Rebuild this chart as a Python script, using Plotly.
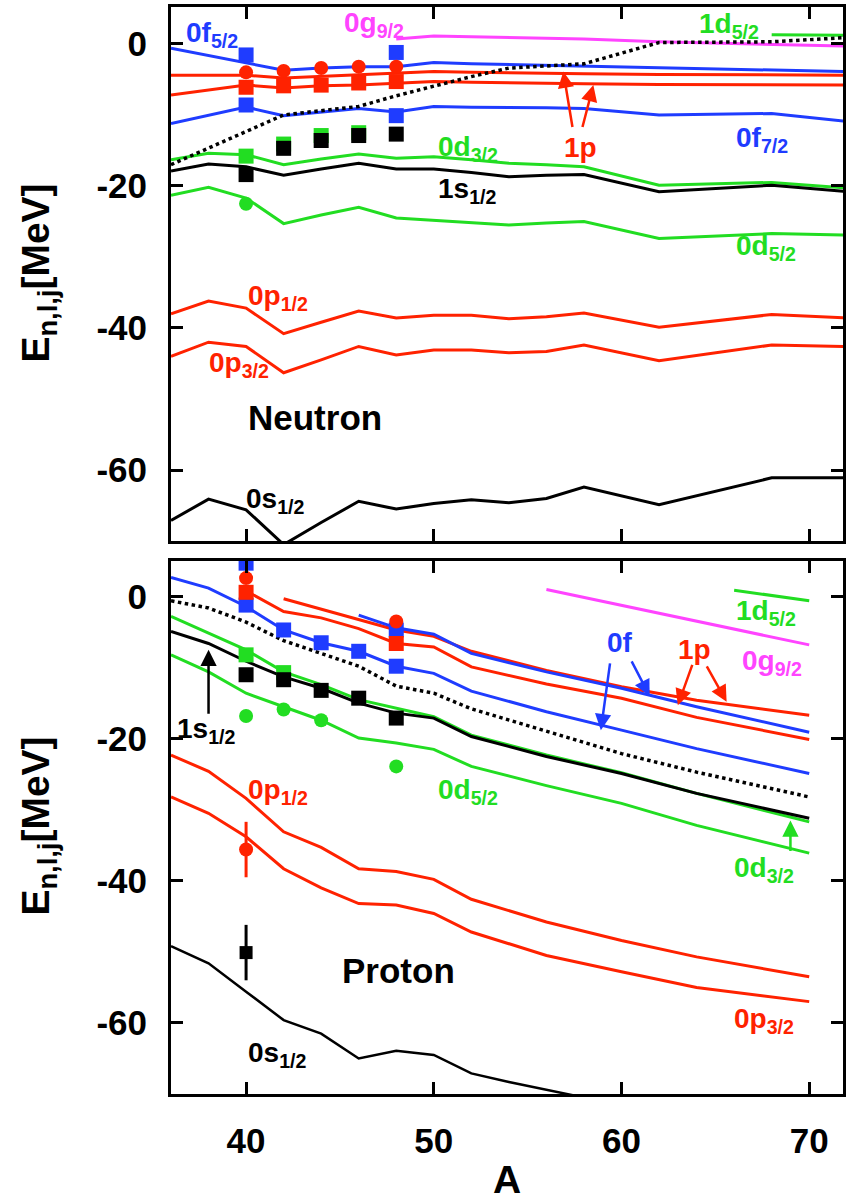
import plotly.graph_objects as go

# ---------------- data ----------------
# Neutron panel (A grid for calculated lines)
A_n = [36, 38, 40, 42, 44, 46, 48, 50, 52, 54, 56, 58, 62, 68, 72]
n_0s12 = [-67.1, -64.1, -65.6, -70.5, -67.4, -64.4, -65.5, -64.7, -64.2, -64.6, -64.0, -62.4, -64.9, -61.1, -61.1]
n_0p32 = [-44.0, -42.0, -42.6, -46.3, -44.5, -42.6, -43.8, -43.1, -43.1, -43.5, -43.3, -42.4, -44.6, -42.4, -42.6]
n_0p12 = [-38.0, -36.2, -37.2, -40.8, -39.2, -37.6, -38.6, -38.2, -38.2, -38.7, -38.4, -37.9, -39.9, -38.1, -38.6]
n_0d52 = [-21.3, -20.2, -21.7, -25.3, -24.1, -23.0, -24.5, -24.8, -25.1, -25.5, -25.2, -25.0, -27.4, -26.7, -26.9]
n_1s12 = [-17.9, -16.9, -17.3, -18.5, -17.6, -16.8, -17.6, -17.6, -18.1, -18.7, -18.5, -18.4, -20.8, -19.9, -20.8]
n_0d32 = [-16.3, -15.4, -15.6, -17.0, -16.2, -15.5, -16.1, -15.9, -16.3, -16.8, -17.0, -17.3, -19.9, -19.5, -20.3]
n_0f72 = [-11.2, -10.0, -8.9, -10.1, -9.6, -9.1, -9.6, -8.8, -8.9, -8.9, -9.0, -9.1, -10.0, -9.8, -10.9]
n_1p32 = [-7.2, -6.5, -5.8, -6.2, -5.9, -5.8, -5.5, -5.3, -5.4, -5.5, -5.5, -5.6, -5.7, -5.7, -5.8]
n_1p12 = [-4.4, -4.4, -4.4, -4.8, -4.6, -4.4, -4.1, -3.9, -4.0, -4.1, -4.1, -4.2, -4.3, -4.3, -4.4]
n_0f52 = [-0.6, -1.6, -2.7, -3.7, -3.4, -3.2, -3.2, -2.6, -2.8, -2.9, -3.0, -3.1, -3.4, -3.6, -3.9]
n_0g92 = [None, None, None, None, None, None, 0.7, 1.1, 1.0, 0.9, 0.8, 0.7, 0.3, 0.0, -0.3]
n_1d52 = [None, None, None, None, None, None, None, None, None, None, None, None, None, 1.3, 1.2]
n_fermi = [-17.0, -14.7, -12.4, -10.0, -9.4, -8.8, -7.3, -5.9, -4.6, -3.4, -3.1, -2.8, 0.2, 0.3, 0.9]

# Neutron experimental points
A_exp = [40, 42, 44, 46, 48]
n_exp_black_sq = [-18.4, -14.7, -13.6, -12.9, -12.7]
n_exp_green_sq = [-15.8, -14.1, -12.9, -12.5, None]
n_exp_red_circ = [-4.0, -3.8, -3.4, -3.2, -3.2]
n_exp_red_sq = [-6.1, -5.9, -5.8, -5.5, -5.3]
n_exp_blue_f52 = [-1.55, None, None, None, -1.2]
n_exp_blue_f72 = [-8.6, None, None, None, -10.1]
n_exp_green_circ = [-22.5, None, None, None, None]

# Proton panel
A_p = [36, 38, 40, 42, 44, 46, 48, 50, 52, 56, 60, 64, 70]
p_0p32 = [-28.2, -30.5, -33.8, -38.3, -41.0, -43.2, -43.4, -44.6, -47.2, -50.5, -52.8, -55.0, -57.0]
p_0p12 = [-22.3, -24.6, -28.4, -33.1, -35.3, -38.3, -38.7, -39.8, -42.6, -45.8, -48.4, -50.7, -53.5]
p_0d52 = [-8.2, -10.6, -13.6, -15.5, -17.4, -19.9, -20.6, -21.5, -23.9, -26.6, -29.1, -32.2, -36.1]
p_1s12 = [-4.9, -6.6, -9.1, -11.3, -12.9, -15.0, -16.4, -17.1, -19.7, -22.5, -24.9, -27.7, -31.2]
p_0d32 = [-2.8, -5.2, -7.5, -10.6, -12.4, -14.5, -15.7, -16.9, -19.5, -22.3, -24.8, -27.7, -31.7]
p_fermi = [-0.6, -1.6, -3.6, -6.2, -8.0, -9.8, -12.6, -13.6, -15.8, -19.0, -22.1, -24.7, -28.2]
p_0f72 = [2.7, 1.2, -1.4, -4.7, -6.5, -7.7, -9.8, -10.8, -13.3, -16.2, -18.8, -21.4, -24.9]
p_1p32 = [None, None, 0.8, -2.1, -3.0, -4.5, -6.6, -7.1, -9.9, -12.3, -14.3, -17.0, -20.1]
p_1p12 = [None, None, None, -0.3, -1.8, -3.3, -4.7, -5.6, -7.7, -10.4, -12.7, -14.6, -16.7]
p_0f52 = [None, None, None, None, None, -2.6, -4.4, -5.3, -8.0, -10.6, -12.9, -15.5, -19.1]
A_p_0s = [36, 38, 40, 42, 44, 46, 48, 50, 52, 54, 58]
p_0s12 = [-49.2, -51.6, -55.6, -59.6, -61.5, -65.0, -63.9, -64.5, -67.1, -68.3, -70.5]
A_p_0g = [56, 70]
p_0g92 = [1.0, -6.8]
A_p_1d = [66, 70]
p_1d52 = [0.9, -0.6]

# Proton experimental points
p_exp_blue_f72 = [-1.2, -4.7, -6.5, -7.7, -9.8]
p_exp_blue_f52 = [4.7, None, None, None, -4.7]
p_exp_red_circ = [2.6, None, None, None, -3.5]
p_exp_red_sq = [0.6, None, None, None, -6.6]
p_exp_green_sq = [-8.2, -10.7, None, None, None]
p_exp_black_sq = [-11.0, -11.7, -13.2, -14.3, -17.1]
p_exp_green_circ = [-16.8, -15.9, -17.4, None, -23.9]
A_deep = [40]
p_exp_0p = [-35.6]
p_exp_0p_err = [3.9]
p_exp_0s = [-50.1]
p_exp_0s_err = [3.9]

# ---------------- style ----------------
FONT = "Liberation Sans"
RED = "#ff2200"
GREEN = "#22dd22"
BLUE = "#1f3cff"
MAG = "#ff44ff"
BLACK = "#000000"

fig = go.Figure()


def add_line(x, y, color, xa, ya, dash="solid", width=3):
    fig.add_trace(go.Scatter(x=x, y=y, mode="lines", xaxis=xa, yaxis=ya,
                             line=dict(color=color, width=width, dash=dash),
                             showlegend=False, hoverinfo="skip"))


def add_pts(x, y, color, symbol, xa, ya, size=15, err=None):
    tr = dict(x=x, y=y, mode="markers", xaxis=xa, yaxis=ya,
              marker=dict(color=color, symbol=symbol, size=size, line=dict(width=0)),
              showlegend=False, hoverinfo="skip")
    if err is not None:
        tr["error_y"] = dict(type="data", array=err, color=color, thickness=3, width=0)
    fig.add_trace(go.Scatter(**tr))


# Neutron lines
for vals, col in [(n_0s12, BLACK), (n_0p32, RED), (n_0p12, RED), (n_0d52, GREEN),
                  (n_0d32, GREEN), (n_1s12, BLACK), (n_0f72, BLUE), (n_1p32, RED),
                  (n_1p12, RED), (n_0f52, BLUE), (n_0g92, MAG), (n_1d52, GREEN)]:
    add_line(A_n, vals, col, "x", "y")
add_line(A_n, n_fermi, BLACK, "x", "y", dash="dot", width=3.5)

# Neutron data
add_pts(A_exp, n_exp_green_circ, GREEN, "circle", "x", "y", size=14)
add_pts(A_exp, n_exp_green_sq, GREEN, "square", "x", "y")
add_pts(A_exp, n_exp_black_sq, BLACK, "square", "x", "y")
add_pts(A_exp, n_exp_blue_f72, BLUE, "square", "x", "y")
add_pts(A_exp, n_exp_blue_f52, BLUE, "square", "x", "y")
add_pts(A_exp, n_exp_red_sq, RED, "square", "x", "y")
add_pts(A_exp, n_exp_red_circ, RED, "circle", "x", "y", size=14)

# Proton lines
add_line(A_p_0s, p_0s12, BLACK, "x2", "y2", width=2.5)
for vals, col in [(p_0p32, RED), (p_0p12, RED), (p_0d52, GREEN), (p_0d32, GREEN),
                  (p_1s12, BLACK), (p_0f72, BLUE), (p_1p32, RED), (p_1p12, RED),
                  (p_0f52, BLUE)]:
    add_line(A_p, vals, col, "x2", "y2")
add_line(A_p_0g, p_0g92, MAG, "x2", "y2")
add_line(A_p_1d, p_1d52, GREEN, "x2", "y2")
add_line(A_p, p_fermi, BLACK, "x2", "y2", dash="dot", width=3.5)

# Proton data
add_pts(A_exp, p_exp_green_circ, GREEN, "circle", "x2", "y2", size=14)
add_pts(A_exp, p_exp_green_sq, GREEN, "square", "x2", "y2")
add_pts(A_exp, p_exp_black_sq, BLACK, "square", "x2", "y2")
add_pts(A_exp, p_exp_blue_f72, BLUE, "square", "x2", "y2")
add_pts(A_exp, p_exp_blue_f52, BLUE, "square", "x2", "y2")
add_pts(A_exp, p_exp_red_sq, RED, "square", "x2", "y2")
add_pts(A_exp, p_exp_red_circ, RED, "circle", "x2", "y2", size=14)
add_pts(A_deep, p_exp_0p, RED, "circle", "x2", "y2", size=14, err=p_exp_0p_err)
add_pts(A_deep, p_exp_0s, BLACK, "square", "x2", "y2", size=13, err=p_exp_0s_err)

# ---------------- axes ----------------
ax_common = dict(showline=True, linecolor="black", linewidth=3, mirror="ticks",
                 ticks="inside", ticklen=12, tickwidth=2.5, tickcolor="black",
                 showgrid=False, zeroline=False)
tickfont = dict(family=FONT, size=35, color="black", weight="bold")
yt = dict(tickvals=[0, -20, -40, -60], ticktext=["0", "-20", "-40", "-60"])

fig.update_layout(
    width=846, height=1204,
    margin=dict(l=171, r=0, t=7, b=110),
    plot_bgcolor="white", paper_bgcolor="white",
    showlegend=False,
    font=dict(family=FONT, color="black"),
    xaxis=dict(range=[36, 71.8], tickvals=[40, 50, 60, 70], showticklabels=False,
               anchor="y", domain=[0, 1], **ax_common),
    yaxis=dict(range=[-70, 5.2], domain=[0.5087, 1], anchor="x", tickfont=tickfont,
               ticklabelstandoff=14, **yt, **ax_common),
    xaxis2=dict(range=[36, 71.8], tickvals=[40, 50, 60, 70], anchor="y2", domain=[0, 1],
                tickfont=tickfont, ticklabelstandoff=14, **ax_common),
    yaxis2=dict(range=[-70, 5.0], domain=[0, 0.4903], anchor="x2", tickfont=tickfont,
                ticklabelstandoff=14, **yt, **ax_common),
)

# ---------------- annotations ----------------
ann = []
LAB = 28


def label(text, x, y, color, xr, yr, xanchor="left", size=LAB):
    ann.append(dict(text=text, x=x, y=y, xref=xr, yref=yr, xanchor=xanchor, yanchor="middle",
                    showarrow=False, font=dict(family=FONT, size=size, color=color, weight="bold")))


def arrow(x0, y0, x1, y1, color, xr, yr):
    ann.append(dict(text="", x=x1, y=y1, ax=x0, ay=y0, xref=xr, yref=yr, axref=xr, ayref=yr,
                    showarrow=True, arrowhead=2, arrowsize=1.3, arrowwidth=2.5, arrowcolor=color))


# neutron labels
label("0f<sub>5/2</sub>", 36.7, 1.35, BLUE, "x", "y")
label("0g<sub>9/2</sub>", 45.1, 2.7, MAG, "x", "y")
label("1d<sub>5/2</sub>", 64.0, 2.6, GREEN, "x", "y")
label("0d<sub>3/2</sub>", 50.1, -14.7, GREEN, "x", "y")
label("1s<sub>1/2</sub>", 50.1, -20.7, BLACK, "x", "y")
label("1p", 57.8, -14.6, RED, "x", "y", xanchor="center")
label("0f<sub>7/2</sub>", 66.0, -13.5, BLUE, "x", "y")
label("0d<sub>5/2</sub>", 66.0, -28.6, GREEN, "x", "y")
label("0p<sub>1/2</sub>", 40.0, -35.7, RED, "x", "y")
label("0p<sub>3/2</sub>", 37.9, -45.2, RED, "x", "y")
label("Neutron", 40.0, -52.6, BLACK, "x", "y", size=35)
label("0s<sub>1/2</sub>", 39.9, -64.3, BLACK, "x", "y")
arrow(57.4, -11.9, 56.9, -3.9, RED, "x", "y")
arrow(57.9, -11.9, 58.5, -5.8, RED, "x", "y")

# proton labels
label("1s<sub>1/2</sub>", 36.2, -18.8, BLACK, "x2", "y2")
label("0p<sub>1/2</sub>", 40.0, -27.4, RED, "x2", "y2")
label("0d<sub>5/2</sub>", 50.1, -27.4, GREEN, "x2", "y2")
label("0f", 59.9, -6.4, BLUE, "x2", "y2", xanchor="center")
label("1p", 63.9, -7.5, RED, "x2", "y2", xanchor="center")
label("0g<sub>9/2</sub>", 66.3, -9.3, MAG, "x2", "y2")
label("1d<sub>5/2</sub>", 66.0, -2.3, GREEN, "x2", "y2")
label("0d<sub>3/2</sub>", 65.9, -38.4, GREEN, "x2", "y2")
label("0p<sub>3/2</sub>", 65.9, -59.6, RED, "x2", "y2")
label("Proton", 45.0, -52.6, BLACK, "x2", "y2", size=35)
label("0s<sub>1/2</sub>", 40.0, -64.5, BLACK, "x2", "y2")
arrow(38.0, -16.7, 38.0, -7.5, BLACK, "x2", "y2")
arrow(59.4, -9.2, 58.9, -18.8, BLUE, "x2", "y2")
arrow(60.5, -8.9, 61.5, -14.0, BLUE, "x2", "y2")
arrow(63.8, -9.4, 63.0, -15.3, RED, "x2", "y2")
arrow(64.5, -9.6, 65.6, -14.8, RED, "x2", "y2")
arrow(69.0, -36.0, 69.0, -31.5, GREEN, "x2", "y2")

# axis titles (paper coords from pixel centres)
ytitle = "E<sub>n,l,j</sub>[MeV]"
for ypx in [273, 826]:
    ann.append(dict(text=ytitle, x=(37 - 171) / 675, y=(1094 - ypx) / 1087,
                    xref="paper", yref="paper", textangle=-90,
                    xanchor="center", yanchor="middle", showarrow=False,
                    font=dict(family=FONT, size=39, color="black", weight="bold")))
ann.append(dict(text="A", x=0.5, y=(1094 - 1203) / 1087, xref="paper", yref="paper",
                xanchor="center", yanchor="bottom", showarrow=False,
                font=dict(family=FONT, size=39, color="black", weight="bold")))

fig.update_layout(annotations=ann)
fig.write_html("out.html")
